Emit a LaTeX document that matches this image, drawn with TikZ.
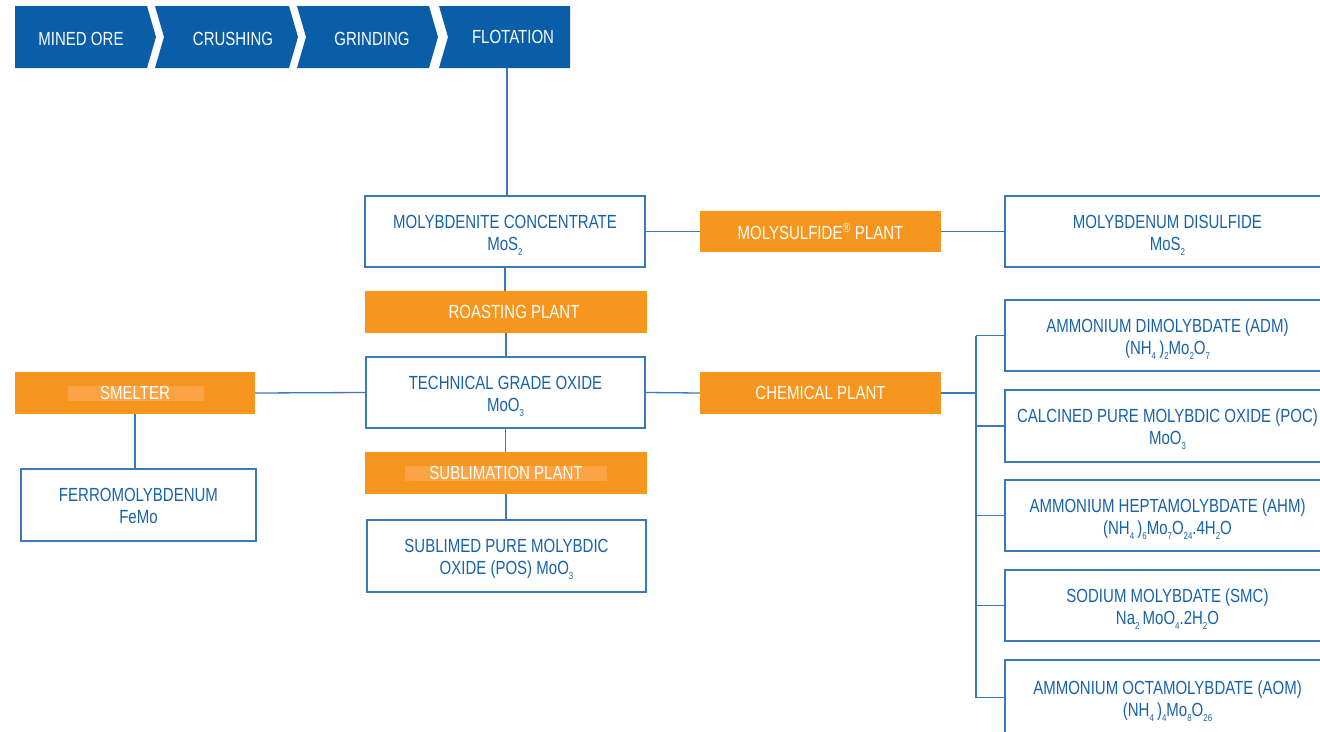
\documentclass[tikz,border=0pt]{standalone}
\usepackage{fontspec}
\setmainfont{Liberation Sans}[FakeStretch=0.79]
\definecolor{cblue}{RGB}{10,94,168}
\definecolor{tblue}{RGB}{24,98,172}
\definecolor{lblue}{RGB}{58,122,188}
\definecolor{morange}{RGB}{247,150,30}
\definecolor{hlorange}{RGB}{250,164,70}
\newcommand\sbs[1]{\raisebox{-5pt}{\fontsize{10}{10}\selectfont #1}}
\newcommand\mainf{\fontsize{19}{22}\selectfont}
\newcommand\bx[2]{\rule{0pt}{21pt}#1\\#2\rule[-6pt]{0pt}{6pt}}
\begin{document}
\begin{tikzpicture}[x=1pt,y=-1pt,
  box/.style={draw=lblue, line width=1.2pt, fill=white, text=tblue, align=center, font=\mainf, inner sep=0pt},
  obox/.style={fill=morange, text=white, font=\mainf, inner sep=0pt},
  wtext/.style={text=white, font=\mainf, inner sep=0pt},
  chev/.style={fill=cblue},
  conn/.style={draw=lblue, line width=1.3pt}]
\useasboundingbox[fill=white] (0,0) rectangle (1320,731);

% top process chevrons
\fill[chev] (15,6) -- (147,6) -- (156,37) -- (147,68) -- (15,68) -- cycle;
\fill[chev] (155,6) -- (289,6) -- (298,37) -- (289,68) -- (155,68) -- (164,37) -- cycle;
\fill[chev] (297,6) -- (429,6) -- (438,37) -- (429,68) -- (297,68) -- (306,37) -- cycle;
\fill[chev] (439,6) -- (570,6) -- (570,68) -- (439,68) -- (448,37) -- cycle;
\node[wtext] (ore) at (81,38.5) {MINED ORE};
\node[wtext] (crush) at (233,38.5) {CRUSHING};
\node[wtext] (grind) at (372,38.5) {GRINDING};
\node[wtext] (flot) at (513,36.5) {FLOTATION};
\coordinate (flotb) at (507,68);

% main column
\node[box, minimum width=280, minimum height=71] (mc) at (505,231.5) {\bx{MOLYBDENITE CONCENTRATE}{MoS\sbs{2}}};
\node[obox, minimum width=282, minimum height=42] (roast) at (506,312) {\hspace*{16pt}ROASTING PLANT};
\node[box, minimum width=279, minimum height=71] (tgo) at (505.5,392.5) {\bx{TECHNICAL GRADE OXIDE}{MoO\sbs{3}}};
\node[obox, minimum width=282, minimum height=42] (subl) at (506,473) {};
\fill[hlorange] (405,466) rectangle (607,481);
\node[wtext] (subltext) at (subl) {SUBLIMATION PLANT};
\node[box, minimum width=279, minimum height=72] (pos) at (506.5,556) {\bx{SUBLIMED PURE MOLYBDIC}{OXIDE (POS) MoO\sbs{3}}};

% left branch
\node[obox, minimum width=240, minimum height=42] (smelt) at (135,393) {};
\fill[hlorange] (68,386) rectangle (204,401);
\node[wtext] (smelttext) at (smelt) {SMELTER};
\node[box, minimum width=235, minimum height=72] (femo) at (138.5,505) {\bx{FERROMOLYBDENUM}{FeMo}};

% molysulfide branch
\node[obox, minimum width=241, minimum height=41] (msp) at (820.5,231.5) {MOLYSULFIDE\textsuperscript{®} PLANT};
\node[box, minimum width=325, minimum height=71] (mds) at (1167.5,231.5) {\bx{MOLYBDENUM DISULFIDE}{MoS\sbs{2}}};

% chemical plant branch
\node[obox, minimum width=241, minimum height=42] (chem) at (820.5,393) {CHEMICAL PLANT};
\node[box, minimum width=325, minimum height=71] (adm) at (1167.5,335.5) {\bx{AMMONIUM DIMOLYBDATE (ADM)}{(NH\sbs{4}\,)\sbs{2}Mo\sbs{2}O\sbs{7}}};
\node[box, minimum width=325, minimum height=72] (poc) at (1167.5,426) {\bx{CALCINED PURE MOLYBDIC OXIDE (POC)}{MoO\sbs{3}}};
\node[box, minimum width=325, minimum height=71] (ahm) at (1167.5,515.5) {\bx{AMMONIUM HEPTAMOLYBDATE (AHM)}{(NH\sbs{4}\,)\sbs{6}Mo\sbs{7}O\sbs{24}.4H\sbs{2}O}};
\node[box, minimum width=325, minimum height=71] (smc) at (1167.5,605.5) {\bx{SODIUM MOLYBDATE (SMC)}{Na\sbs{2}\,MoO\sbs{4}.2H\sbs{2}O}};
\node[box, minimum width=325, minimum height=75] (aom) at (1167.5,697.5) {\bx{AMMONIUM OCTAMOLYBDATE (AOM)}{(NH\sbs{4}\,)\sbs{4}Mo\sbs{8}O\sbs{26}}};
\coordinate (bus) at (976,0);

% connectors
\draw[conn] (flotb) -- (flotb |- mc.north);
\draw[conn] (mc.east) -- (msp.west);
\draw[conn] (msp.east) -- (mds.west);
\draw[conn] (mc.south) -- (mc.south |- roast.north);
\draw[conn] (roast.south) -- (roast.south |- tgo.north);
\draw[conn] (tgo.west) -- (smelt.east);
\draw[conn] (tgo.east) -- (chem.west);
\draw[conn] (tgo.south) -- (tgo.south |- subl.north);
\draw[conn] (subl.south) -- (subl.south |- pos.north);
\draw[conn] (smelt.south) -- (smelt.south |- femo.north);
\draw[conn] (chem.east) -- (chem.east -| bus);
\draw[conn] (adm.west -| bus) -- (aom.west -| bus);
\foreach \n in {adm,poc,ahm,smc,aom} {\draw[conn] (\n.west -| bus) -- (\n.west);}
\end{tikzpicture}
\end{document}
